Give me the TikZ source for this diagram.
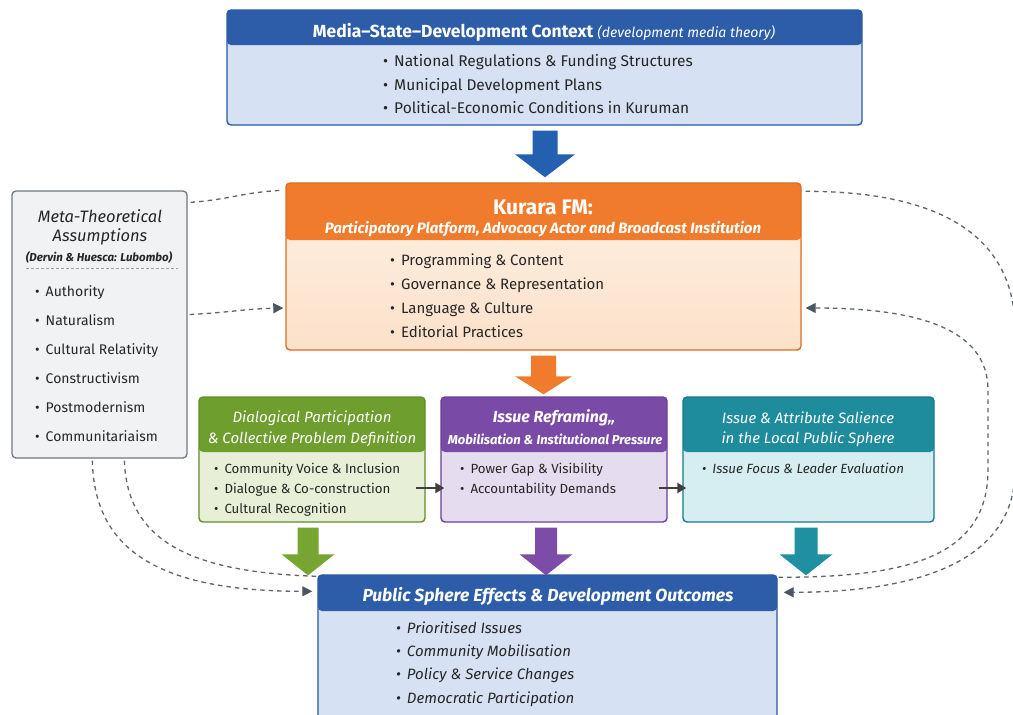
\documentclass[tikz,border=0pt]{standalone}
\usepackage{fontspec}
\setmainfont{Fira Sans}
\usetikzlibrary{arrows.meta,calc}

\definecolor{ink}{HTML}{262626}
\definecolor{bluehd}{HTML}{2D5DA8}
\definecolor{bluebd}{HTML}{D6E2F3}
\definecolor{bluedr}{HTML}{2A58A0}
\definecolor{orghd}{HTML}{F07B2C}
\definecolor{orgtop}{HTML}{FEF1E4}
\definecolor{orgbot}{HTML}{FBE1CA}
\definecolor{orgdr}{HTML}{E06C1E}
\definecolor{metabd}{HTML}{F1F2F4}
\definecolor{metadr}{HTML}{707781}
\definecolor{grnhd}{HTML}{6E9E2E}
\definecolor{grnbd}{HTML}{E7F0D7}
\definecolor{grndr}{HTML}{5F8F27}
\definecolor{purhd}{HTML}{7A4BA6}
\definecolor{purbd}{HTML}{E6DCF0}
\definecolor{purdr}{HTML}{6C3F98}
\definecolor{tealhd}{HTML}{1F8C9E}
\definecolor{tealbd}{HTML}{D6EEF1}
\definecolor{tealdr}{HTML}{17788A}
\definecolor{arrblue}{HTML}{2360B0}
\definecolor{arrorg}{HTML}{F07B2C}
\definecolor{arrgrn}{HTML}{76A531}
\definecolor{arrpur}{HTML}{7D4CA8}
\definecolor{arrteal}{HTML}{1E90A2}
\definecolor{dashc}{HTML}{5E6570}
\definecolor{tipc}{HTML}{4B5563}
\definecolor{flowc}{HTML}{404040}

\tikzset{
  panel/.style n args={4}{draw=#1, fill=#2, rounded corners=4pt, line width=1.4pt,
    inner sep=0pt,
    path picture={\fill[#3] (path picture bounding box.north west) rectangle
      ([yshift=-#4]path picture bounding box.north east);}},
  txt/.style={text=ink, inner sep=0pt, yshift=-3pt},
  wtxt/.style={text=white, inner sep=0pt, yshift=-3pt},
  bul/.style={txt, anchor=mid west},
  link/.style={draw=dashc, line width=1.3pt, dash pattern=on 4.5pt off 4pt},
  tipped/.style={-{Triangle[length=10pt,width=10pt,fill=tipc,color=tipc]}},
  flow/.style={draw=flowc, line width=2.6pt, -{Triangle[length=9pt,width=10pt]}},
}

% block arrow: colour, top point, tip point, shaft half width, head half width, head length
\newcommand\blockarrow[6]{%
  \fill[#1] ($(#2)+(-#4,0)$) -- ($(#3)+(-#4,-#6)$) -- ($(#3)+(-#5,-#6)$) -- (#3)
    -- ($(#3)+(#5,-#6)$) -- ($(#3)+(#4,-#6)$) -- ($(#2)+(#4,0)$) -- cycle;}

\newcommand\bt{\textbullet\hspace{6pt}}

\begin{document}
\begin{tikzpicture}[x=1pt,y=-1pt]
\fill[white] (0,0) rectangle (1013,715);
\useasboundingbox (0,0) rectangle (1013,715);

% ---------- boxes ----------
\node[panel={bluedr}{bluebd}{bluehd}{35pt}, minimum width=635pt, minimum height=115pt] (ctx) at (544.5,67.5) {};
\node[panel={orgdr}{orgtop}{orghd}{57pt}, top color=orgtop, bottom color=orgbot,
      minimum width=515pt, minimum height=167pt] (kur) at (543.5,266.5) {};
\node[draw=metadr, fill=metabd, rounded corners=4pt, line width=1.3pt,
      minimum width=175pt, minimum height=267pt] (meta) at (99.5,324.5) {};
\node[panel={grndr}{grnbd}{grnhd}{55pt}, minimum width=226pt, minimum height=125pt] (grn) at (312,459.5) {};
\node[panel={purdr}{purbd}{purhd}{55pt}, minimum width=226pt, minimum height=125pt] (pur) at (554,459.5) {};
\node[panel={tealdr}{tealbd}{tealhd}{55pt}, minimum width=251pt, minimum height=125pt] (teal) at (808.5,459.5) {};
\node[panel={bluedr}{bluebd}{bluehd}{36pt}, minimum width=459pt, minimum height=150pt] (pub) at (547.5,650) {};

% ---------- context box text ----------
\node[wtxt] (ctx-t) at (544,29) {\fontsize{17.5}{20}\selectfont\bfseries Media–State–Development Context
  \fontsize{14}{16}\selectfont\mdseries\itshape(development media theory)};
\node[bul] (ctx-1) at (383,61) {\fontsize{15.5}{18}\selectfont\bt National Regulations \& Funding Structures};
\node[bul] (ctx-2) at (383,85) {\fontsize{15.5}{18}\selectfont\bt Municipal Development Plans};
\node[bul] (ctx-3) at (383,108) {\fontsize{15.5}{18}\selectfont\bt Political-Economic Conditions in Kuruman};

% ---------- Kurara FM ----------
\node[wtxt] (kur-t) at (543,204) {\fontsize{21}{24}\selectfont\bfseries Kurara FM:};
\node[wtxt] (kur-s) at (543,226) {\fontsize{15}{17}\selectfont\bfseries\itshape Participatory Platform, Advocacy Actor and Broadcast Institution};
\node[bul] (kur-1) at (390,260) {\fontsize{15}{18}\selectfont\bt Programming \& Content};
\node[bul] (kur-2) at (390,284) {\fontsize{15}{18}\selectfont\bt Governance \& Representation};
\node[bul] (kur-3) at (390,308) {\fontsize{15}{18}\selectfont\bt Language \& Culture};
\node[bul] (kur-4) at (390,332) {\fontsize{15}{18}\selectfont\bt Editorial Practices};

% ---------- meta-theoretical assumptions ----------
\node[txt] (meta-t1) at (100,213) {\fontsize{16.5}{20}\selectfont\itshape Meta-Theoretical};
\node[txt] (meta-t2) at (100,234) {\fontsize{16.5}{20}\selectfont\itshape Assumptions};
\node[txt] (meta-c) at (99,254) {\fontsize{11.5}{13}\selectfont\bfseries\itshape (Dervin \& Huesca: Lubombo)};
\draw[draw=metadr!70, line width=0.8pt, dash pattern=on 3pt off 2pt]
  ([shift={(15,78)}]meta.north west) -- ([shift={(-10,78)}]meta.north east);
\node[bul] (meta-1) at (35,291) {\fontsize{14}{17}\selectfont\bt Authority};
\node[bul] (meta-2) at (35,320) {\fontsize{14}{17}\selectfont\bt Naturalism};
\node[bul] (meta-3) at (35,349) {\fontsize{14}{17}\selectfont\bt Cultural Relativity};
\node[bul] (meta-4) at (35,378) {\fontsize{14}{17}\selectfont\bt Constructivism};
\node[bul] (meta-5) at (35,407) {\fontsize{14}{17}\selectfont\bt Postmodernism};
\node[bul] (meta-6) at (35,436) {\fontsize{14}{17}\selectfont\bt Communitariaism};

% ---------- three mechanism boxes ----------
\node[wtxt] (grn-t1) at (312,415) {\fontsize{15}{18}\selectfont\itshape Dialogical Participation};
\node[wtxt] (grn-t2) at (312,436) {\fontsize{15}{18}\selectfont\itshape \& Collective Problem Definition};
\node[bul] (grn-1) at (214,468) {\fontsize{13.3}{16}\selectfont\bt Community Voice \& Inclusion};
\node[bul] (grn-2) at (214,488) {\fontsize{13.3}{16}\selectfont\bt Dialogue \& Co-construction};
\node[bul] (grn-3) at (214,508) {\fontsize{13.3}{16}\selectfont\bt Cultural Recognition};

\node[wtxt] (pur-t1) at (554,415) {\fontsize{16}{18}\selectfont\bfseries\itshape Issue Reframing,,};
\node[wtxt] (pur-t2) at (555,436) {\fontsize{13}{15}\selectfont\bfseries\itshape Mobilisation \& Institutional Pressure};
\node[bul] (pur-1) at (460,468) {\fontsize{13.3}{16}\selectfont\bt Power Gap \& Visibility};
\node[bul] (pur-2) at (460,488) {\fontsize{13.3}{16}\selectfont\bt Accountability Demands};

\node[wtxt] (teal-t1) at (808,415) {\fontsize{15}{18}\selectfont\itshape Issue \& Attribute Salience};
\node[wtxt] (teal-t2) at (808,436) {\fontsize{15}{18}\selectfont\itshape in the Local Public Sphere};
\node[bul] (teal-1) at (702,468) {\fontsize{13.3}{16}\selectfont\itshape\bt Issue Focus \& Leader Evaluation};

% ---------- outcomes ----------
\node[wtxt] (pub-t) at (548,593) {\fontsize{17.5}{20}\selectfont\bfseries\itshape Public Sphere Effects \& Development Outcomes};
\node[bul] (pub-1) at (396,628) {\fontsize{15}{18}\selectfont\itshape\bt Prioritised Issues};
\node[bul] (pub-2) at (396,651) {\fontsize{15}{18}\selectfont\itshape\bt Community Mobilisation};
\node[bul] (pub-3) at (396,674) {\fontsize{15}{18}\selectfont\itshape\bt Policy \& Service Changes};
\node[bul] (pub-4) at (396,698) {\fontsize{15}{18}\selectfont\itshape\bt Democratic Participation};

% ---------- block arrows ----------
\coordinate (a1t) at ($(ctx.south)+(0.5,5)$);
\coordinate (a1b) at ($(ctx.south |- kur.north)+(0.5,-5)$);
\blockarrow{arrblue}{a1t}{a1b}{12.5}{30}{23}
\coordinate (a2t) at ($(kur.south)+(0,5)$);
\coordinate (a2b) at ($(kur.south |- pur.north)+(0,-2)$);
\blockarrow{arrorg}{a2t}{a2b}{12.5}{28.5}{18}
\coordinate (a3t) at ($(grn.south)+(-4,5)$);
\coordinate (a3b) at ($(grn.south |- pub.north)+(-4,1)$);
\blockarrow{arrgrn}{a3t}{a3b}{10.5}{26.5}{21}
\coordinate (a4t) at ($(pur.south)+(-8,5)$);
\coordinate (a4b) at ($(pur.south |- pub.north)+(-8,1)$);
\blockarrow{arrpur}{a4t}{a4b}{11}{26.5}{21}
\coordinate (a5t) at ($(teal.south)+(-2.5,5)$);
\coordinate (a5b) at ($(teal.south |- pub.north)+(-2.5,1)$);
\blockarrow{arrteal}{a5t}{a5b}{11.5}{26.5}{21}

% ---------- horizontal flow arrows ----------
\draw[flow] ([shift={(-10,28.5)}]grn.east) -- ([shift={(4,28.5)}]pur.west);
\draw[flow] ([shift={(-9,28.5)}]pur.east) -- ([shift={(4,28.5)}]teal.west);

% ---------- dashed feedback links ----------
\draw[link] ([shift={(3,12)}]meta.north east) .. controls +(40,-3) and +(-40,2) .. ([shift={(-3,8)}]kur.north west);
\draw[link,tipped] ([shift={(2,-10)}]meta.east) .. controls +(40,-2) and +(-40,1) .. ([shift={(-2,41.5)}]kur.west);
\draw[link] ([shift={(113,2)}]meta.south west) .. controls +(3,80) and +(-128,-4) .. ([shift={(0,2)}]pub.north west);
\draw[link,tipped] ([shift={(81,2)}]meta.south west) .. controls +(2,90) and +(-153,0) .. ([shift={(-5,17)}]pub.north west);
\draw[link,tipped] ([shift={(4,9)}]kur.north east) .. controls +(125,0) and +(0,-100) .. (1015,330)
  -- (1015,470) .. controls +(0,90) and +(137,0) .. ([shift={(6,18)}]pub.north east);
\draw[link,tipped] ([shift={(1,3)}]pub.north east) .. controls +(122,0) and +(0,90) .. (988,470)
  -- (988,390) .. controls +(0,-60) and +(115,0) .. ([shift={(4,41.5)}]kur.east);
\end{tikzpicture}
\end{document}
